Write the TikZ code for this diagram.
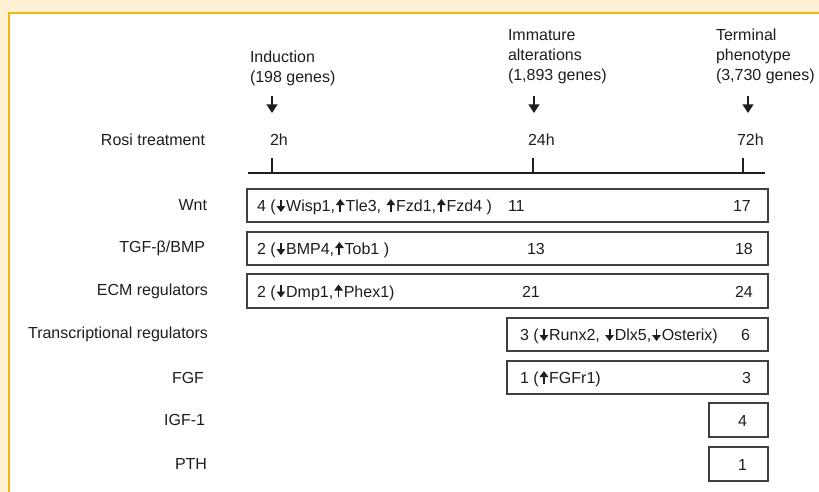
\documentclass[tikz,border=0pt]{standalone}
\usepackage{fontspec}
\setmainfont{Liberation Sans}
\usetikzlibrary{arrows.meta}
\definecolor{cream}{RGB}{253,240,211}
\definecolor{gold}{RGB}{241,183,10}
\definecolor{ink}{RGB}{30,30,30}
\newcommand\dnar{\hspace{1pt}\tikz[baseline=0pt]\draw[ink,line width=1.9pt,-{Triangle[length=6pt,width=8.5pt]}] (0pt,12pt) -- (0pt,-0.5pt);\hspace{1pt}}
\newcommand\upar{\hspace{1pt}\tikz[baseline=0pt]\draw[ink,line width=1.9pt,-{Triangle[length=6pt,width=8.5pt]}] (0pt,0pt) -- (0pt,12.5pt);\hspace{1pt}}
\begin{document}
\begin{tikzpicture}[x=1pt,y=-1pt,
  every node/.style={inner sep=0pt,outer sep=0pt,text=ink,font=\fontsize{16}{19}\selectfont},
  lbl/.style={anchor=east},
  txt/.style={anchor=base west},
  rowbox/.style={draw=ink!85,line width=1.6pt},
  bigarrow/.style={draw=ink,line width=2pt,-{Triangle[length=8.5pt,width=10.5pt]}},
  tick/.style={draw=ink,line width=2.4pt}]
\useasboundingbox (0,0) rectangle (819,492);
\fill[cream] (0,0) rectangle (819,492);
\fill[white] (9,13) rectangle (819,492);
\draw[gold,line width=2.2pt] (9,492) -- (9,13) -- (819,13);

% headers
\node[txt] (h1a) at (250,62.5) {Induction};
\node[txt] (h1b) at (250,82.5) {(198 genes)};
\node[txt] (h2a) at (508,40.5) {Immature};
\node[txt] (h2b) at (508,60.5) {alterations};
\node[txt] (h2c) at (508,80.5) {(1,893 genes)};
\node[txt] (h3a) at (716,40.5) {Terminal};
\node[txt] (h3b) at (716,60.5) {phenotype};
\node[txt] (h3c) at (716,80.5) {(3,730 genes)};

\coordinate (a1s) at (272,96); \coordinate (a1e) at (272,113);
\coordinate (a2s) at (534,96); \coordinate (a2e) at (534,113);
\coordinate (a3s) at (748,96); \coordinate (a3e) at (748,113);
\draw[bigarrow] (a1s) -- (a1e);
\draw[bigarrow] (a2s) -- (a2e);
\draw[bigarrow] (a3s) -- (a3e);

% time line
\node[lbl] (rosi) at (205,140) {Rosi treatment};
\node[txt] (t1) at (270,145.5) {2h};
\node[txt] (t2) at (528,145.5) {24h};
\node[txt] (t3) at (737,145.5) {72h};
\coordinate (tl0) at (248,173); \coordinate (tl1) at (765,173);
\draw[draw=ink,line width=2.8pt] (tl0) -- (tl1);
\coordinate (k1) at (272,158); \coordinate (k1b) at (272,173);
\coordinate (k2) at (533,158); \coordinate (k2b) at (533,173);
\coordinate (k3) at (743,158); \coordinate (k3b) at (743,173);
\draw[tick] (k1) -- (k1b);
\draw[tick] (k2) -- (k2b);
\draw[tick] (k3) -- (k3b);

% row labels
\node[lbl] (lw) at (207,205.5) {Wnt};
\node[lbl] (lt) at (205,248.5) {TGF-β/BMP};
\node[lbl] (le) at (208,291) {ECM regulators};
\node[lbl] (lr) at (208,334.5) {Transcriptional regulators};
\node[lbl] (lf) at (204,377.5) {FGF};
\node[lbl] (li) at (205,420) {IGF-1};
\node[lbl] (lp) at (207,464) {PTH};

% boxes
\draw[rowbox] (247,189) rectangle (768,222);
\draw[rowbox] (247,232) rectangle (768,265);
\draw[rowbox] (247,274) rectangle (768,308);
\draw[rowbox] (507,318) rectangle (768,351);
\draw[rowbox] (507,361) rectangle (768,394);
\draw[rowbox] (709,403) rectangle (768,437);
\draw[rowbox] (709,447) rectangle (768,481);

% box contents
\node[txt] (w1) at (257,211.5) {4 (\dnar Wisp1,\upar Tle3, \upar Fzd1,\upar Fzd4 )};
\node[txt] (w2) at (508,211.5) {11};
\node[txt] (w3) at (733,211.5) {17};
\node[txt] (g1) at (257,254.5) {2 (\dnar BMP4,\upar Tob1 )};
\node[txt] (g2) at (527,254.5) {13};
\node[txt] (g3) at (735,254.5) {18};
\node[txt] (e1) at (257,297) {2 (\dnar Dmp1,\upar Phex1)};
\node[txt] (e2) at (522,297) {21};
\node[txt] (e3) at (735,297) {24};
\node[txt] (r1) at (520,340.5) {3 (\dnar Runx2, \dnar Dlx5,\dnar Osterix)};
\node[txt] (r2) at (741,340.5) {6};
\node[txt] (f1) at (520,383.5) {1 (\upar FGFr1)};
\node[txt] (f2) at (742,383.5) {3};
\node[txt] (i1) at (738,426) {4};
\node[txt] (p1) at (738,470) {1};
\end{tikzpicture}
\end{document}
